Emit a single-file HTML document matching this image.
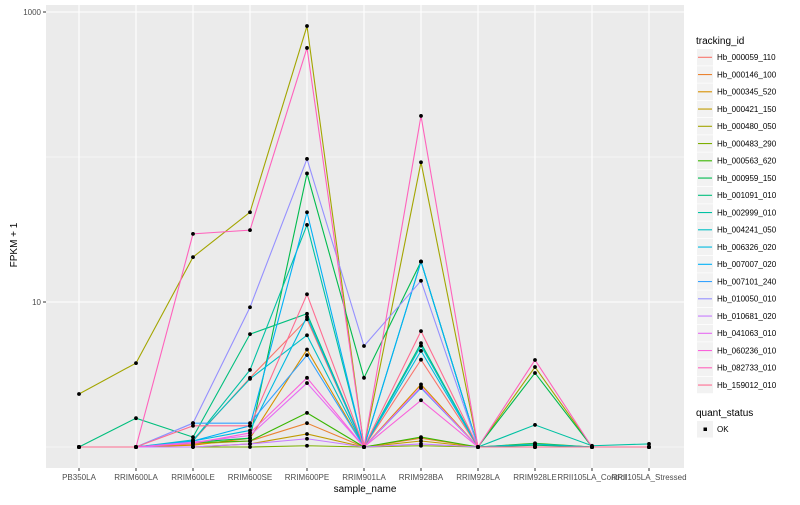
<!DOCTYPE html>
<html><head><meta charset="utf-8"><style>
body{margin:0;background:#fff;font-family:"Liberation Sans",sans-serif}
svg text{font-family:"Liberation Sans",sans-serif}
</style></head><body>
<svg id="chart" width="800" height="500" xmlns="http://www.w3.org/2000/svg"></svg>
<script>
const categories=["PB350LA","RRIM600LA","RRIM600LE","RRIM600SE","RRIM600PE","RRIM901LA","RRIM928BA","RRIM928LA","RRIM928LE","RRII105LA_Control","RRII105LA_Stressed"];
const seriesNames=["Hb_000059_110","Hb_000146_100","Hb_000345_520","Hb_000421_150","Hb_000480_050","Hb_000483_290","Hb_000563_620","Hb_000959_150","Hb_001091_010","Hb_002999_010","Hb_004241_050","Hb_006326_020","Hb_007007_020","Hb_007101_240","Hb_010050_010","Hb_010681_020","Hb_041063_010","Hb_060236_010","Hb_082733_010","Hb_159012_010"];
const seriesColors=["#F8766D","#EA8331","#D89000","#C09B00","#A3A500","#7CAE00","#39B600","#00BB4E","#00BF7D","#00C1A3","#00BFC4","#00BAE0","#00B0F6","#35A2FF","#9590FF","#C77CFF","#E76BF3","#FA62DB","#FF62BC","#FF6C91"];
const v0=[1,1,1.1,3.0,7.6,1,4.0,1,1.05,1,1];
const v1=[1,1,1.05,1.1,1.46,1,1.15,1,1,1,1];
const v2=[1,1,1.03,1.15,4.7,1,2.7,1,1,1,1];
const v3=[1,1,1,1.05,1.23,1,1.1,1,1,1,1];
const v4=[2.32,3.79,20.4,41.6,800,1,92,1,3.56,1,1];
const v5=[1,1,1,1,1.02,1,1.02,1,1,1,1];
const v6=[1,1,1.07,1.1,1.72,1,1.17,1,1.06,1,1];
const v7=[1,1,1.08,1.15,77,3.0,19,1,3.24,1,1];
const v8=[1,1.58,1.17,6.0,8.3,1,5.2,1,1.03,1,1];
const v9=[1,1,1.1,3.4,34,1,19,1,1.42,1.02,1.05];
const v10=[1,1,1.12,2.95,5.9,1,5.0,1,1.05,1,1];
const v11=[1,1,1.1,1.3,7.9,1,4.6,1,1,1,1];
const v12=[1,1,1.1,1.4,41.6,1,19,1,1,1,1];
const v13=[1,1,1.46,1.46,4.3,1,2.55,1,1,1,1];
const v14=[1,1,1.46,9.2,97,4.97,14,1,1,1,1];
const v15=[1,1,1,1.05,1.14,1,1.05,1,1,1,1];
const v16=[1,1,1.08,1.2,2.76,1,2.6,1,1,1,1];
const v17=[1,1,1.06,1.25,3.0,1,2.1,1,1,1,1];
const v18=[1,1,29.5,31.3,565,1,192,1,3.98,1,1];
const v19=[1,1,1.4,1.4,11.3,1,6.3,1,1,1,1];
const seriesValues=[v0,v1,v2,v3,v4,v5,v6,v7,v8,v9,v10,v11,v12,v13,v14,v15,v16,v17,v18,v19];
const yTicks=[10,1000];
const yTickLabels=["10","1000"];
const yMinor=[1,100];

const NS="http://www.w3.org/2000/svg";
const svg=document.getElementById('chart');
const P={l:46,r:684,t:5,b:468};
function xs(i){return 79+i*57;}
function ys(v){return 447-Math.log10(v)*145;}
function mk(tag,attrs,parent){const e=document.createElementNS(NS,tag);for(const k in attrs)e.setAttribute(k,attrs[k]);(parent||svg).appendChild(e);return e;}
const bg=mk('rect',{x:P.l,y:P.t,width:P.r-P.l,height:P.b-P.t,fill:'#EBEBEB'});


yMinor.forEach(v=>{const g=mk('line',{x1:P.l,x2:P.r,y1:ys(v),y2:ys(v),stroke:'#fff','stroke-width':0.6});

});
yTicks.forEach((v,i)=>{const g=mk('line',{x1:P.l,x2:P.r,y1:ys(v),y2:ys(v),stroke:'#fff','stroke-width':1.1});


mk('line',{x1:P.l-3,x2:P.l,y1:ys(v),y2:ys(v),stroke:'#333','stroke-width':1});
const t=mk('text',{x:P.l-5,y:ys(v)+3,'text-anchor':'end','font-size':8,fill:'#4D4D4D'});t.textContent=yTickLabels[i];

});
categories.forEach((c,i)=>{const g=mk('line',{x1:xs(i),x2:xs(i),y1:P.t,y2:P.b,stroke:'#fff','stroke-width':1.1});


mk('line',{x1:xs(i),x2:xs(i),y1:P.b,y2:P.b+3,stroke:'#333','stroke-width':1});
const t=mk('text',{x:xs(i),y:480,'text-anchor':'middle','font-size':8,fill:'#4D4D4D'});t.textContent=c;

});
seriesValues.forEach((vals,s)=>{const pts=vals.map((v,i)=>xs(i)+','+ys(v)).join(' ');
const l=mk('polyline',{points:pts,fill:'none',stroke:seriesColors[s],'stroke-width':1.1});

});
seriesValues.forEach((vals,s)=>{vals.forEach((v,i)=>{const d=mk('circle',{cx:xs(i),cy:ys(v),r:1.9,fill:'#000'});

});});
const yt=mk('text',{x:17,y:245,'text-anchor':'middle','font-size':10,fill:'#000',transform:'rotate(-90 17 245)'});yt.textContent='FPKM + 1';


const xt=mk('text',{x:365,y:492,'text-anchor':'middle','font-size':10,fill:'#000'});xt.textContent='sample_name';


const lt=mk('text',{x:696,y:44,'font-size':10,fill:'#000'});lt.textContent='tracking_id';


seriesNames.forEach((n,s)=>{const y=49+s*17.25;
const g=mk('g',{});


mk('rect',{x:697,y:y,width:16,height:16.5,fill:'#F2F2F2'},g);
mk('line',{x1:698,x2:712,y1:y+8.3,y2:y+8.3,stroke:seriesColors[s],'stroke-width':1.1},g);
const t=mk('text',{x:717,y:y+11,'font-size':8,fill:'#000'},g);t.textContent=n;});
const qt=mk('text',{x:696,y:416,'font-size':10,fill:'#000'});qt.textContent='quant_status';


const qg=mk('g',{});


mk('rect',{x:697,y:421,width:16,height:16.5,fill:'#F2F2F2'},qg);
mk('rect',{x:703.5,y:427.5,width:3.5,height:3.5,fill:'#000'},qg);
const ok=mk('text',{x:717,y:432,'font-size':8,fill:'#000'},qg);ok.textContent='OK';
</script>
</body></html>
